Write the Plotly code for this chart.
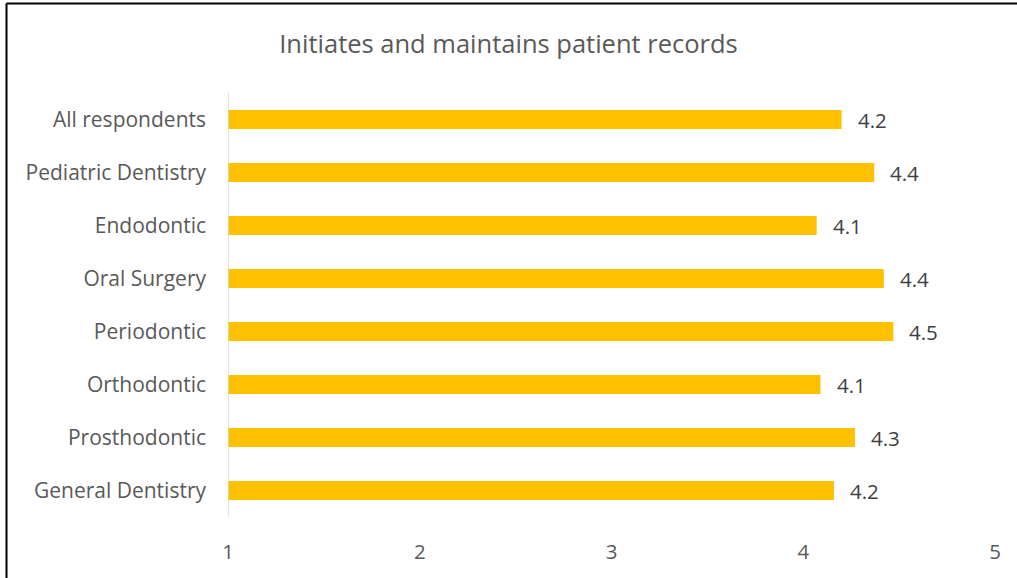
import plotly.graph_objects as go

categories = ["General Dentistry", "Prosthodontic", "Orthodontic", "Periodontic",
              "Oral Surgery", "Endodontic", "Pediatric Dentistry", "All respondents"]
values = [4.16, 4.27, 4.09, 4.47, 4.42, 4.07, 4.37, 4.20]
x_ticks = [1, 2, 3, 4, 5]

W, H = 1017, 578
L, R, T, B = 228, 22, 93, 61
pw, ph = W - L - R, H - T - B

def px(x):
    return (x - L) / pw

def py(y):
    return (H - B - y) / ph

FONT = "Open Sans"

fig = go.Figure(go.Bar(
    x=values, y=categories, orientation="h",
    marker=dict(color="#FFC000", line=dict(width=0)),
    hoverinfo="x+y",
))

for v, c in zip(values, categories):
    fig.add_annotation(x=v, y=c, xref="x", yref="y", text=f"{v:.1f}",
                       showarrow=False, xanchor="left", yanchor="middle",
                       xshift=14, font=dict(family=FONT, size=20.5, color="#404040"))

fig.update_layout(
    width=W, height=H,
    margin=dict(l=L, r=R, t=T, b=B),
    paper_bgcolor="white", plot_bgcolor="white",
    bargap=0.64,
    showlegend=False,
    title=dict(text="Initiates and maintains patient records",
               x=0.5, xanchor="center", y=1 - 44 / H, yanchor="middle",
               font=dict(family=FONT, size=25.5, color="#595959")),
    xaxis=dict(range=[1, 5], tickvals=x_ticks, showgrid=False, zeroline=False,
               showline=False, ticks="", ticklabelstandoff=20,
               tickfont=dict(family=FONT, size=20.5, color="#595959")),
    yaxis=dict(showgrid=False, zeroline=False, showline=False, ticks="",
               ticklabelstandoff=21,
               tickfont=dict(family=FONT, size=21, color="#595959")),
    font=dict(family=FONT),
    shapes=[
        dict(type="line", xref="x", yref="paper", x0=1, x1=1, y0=0, y1=1,
             line=dict(color="#D9D9D9", width=1.5)),
        dict(type="line", xref="paper", yref="paper", x0=px(6.5), x1=px(W), y0=py(3.5), y1=py(3.5),
             line=dict(color="black", width=2)),
        dict(type="line", xref="paper", yref="paper", x0=px(6.5), x1=px(6.5), y0=py(3.5), y1=py(H),
             line=dict(color="black", width=2)),
    ],
)

fig.write_html("out.html", config={"displayModeBar": False},
               post_script="document.body.style.margin='0';")
